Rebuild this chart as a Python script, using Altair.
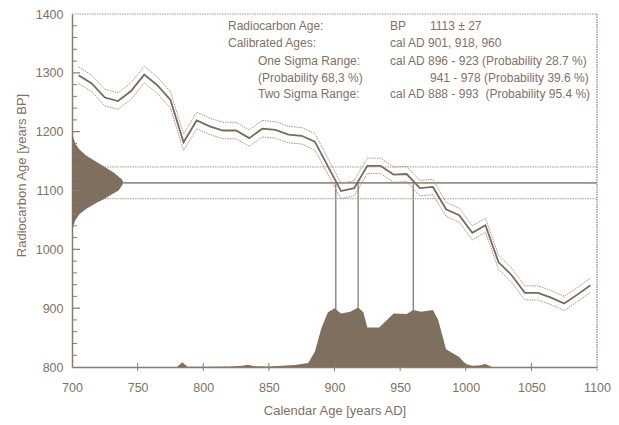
import altair as alt
import pandas as pd

# ---------------- data ----------------
# calibration curve (year AD, radiocarbon age BP, 1-sigma error)
cal_years = [705, 715, 725, 735, 745, 755, 765, 775, 785, 795, 805, 815, 825, 835, 845,
             855, 865, 875, 885, 905, 915, 925, 935, 945, 955, 965, 975, 985, 995, 1005,
             1015, 1025, 1035, 1045, 1055, 1065, 1075, 1085, 1095]
cal_bp = [1296, 1282, 1258, 1252, 1269, 1297, 1279, 1254, 1182, 1219, 1209, 1202, 1202, 1189, 1205,
          1203, 1195, 1193, 1183, 1099, 1104, 1142, 1142, 1127, 1128, 1104, 1106, 1068, 1058, 1028,
          1041, 978, 956, 926, 926, 918, 908, 923, 939]
cal_err = [14, 14, 14, 14, 14, 14, 14, 14, 14, 14, 14, 14, 14, 14, 14,
           14, 14, 14, 14, 13, 13, 13, 13, 13, 13, 13, 13, 12, 12, 12,
           12, 12, 12, 12, 12, 12, 12, 12, 12]

# measured radiocarbon age distribution (age BP, width in years from the axis)
gauss_age = [1200, 1190, 1180, 1170, 1160, 1150, 1140, 1130, 1120, 1113, 1100, 1090, 1086,
             1080, 1070, 1060, 1050, 1040, 1030, 1020]
gauss_w = [0.3, 1.0, 2.5, 5.5, 10.5, 17.5, 25, 32, 37.5, 39.5, 35.5, 27.5, 25,
           19.5, 11.5, 5.8, 2.6, 1.0, 0.35, 0.1]

# calibrated probability distribution (year AD, height on the BP scale)
prob_years = [780, 784, 788, 800, 820, 830, 834, 838, 850, 860, 870, 880, 885, 890, 895, 900,
              905, 912, 918, 922, 925, 934, 940, 945, 955, 960, 966, 975, 979, 985, 995, 1000,
              1005, 1010, 1015, 1020]
prob_vals = [800, 808, 800.5, 800.5, 801, 802, 804, 801.5, 801, 802, 803.5, 807, 826, 866, 893, 900,
             891, 894, 901, 893, 867, 867, 880, 891, 890, 897, 894, 897, 880, 830, 817, 805,
             802, 802.5, 805, 800]

intercepts = [901, 918, 960]
c14_age = 1113
c14_err = 27

y_major = [800, 900, 1000, 1100, 1200, 1300, 1400]
y_minor = list(range(800, 1400, 20))
x_major = [700, 750, 800, 850, 900, 950, 1000, 1050, 1100]

NB = "\u00a0"
text_left = ["Radiocarbon Age:", "Calibrated Ages:", "One Sigma Range:", "(Probability 68,3 %)", "Two Sigma Range:"]
text_right = ["BP", "cal AD 901, 918, 960", "cal AD 896 - 923 (Probability 28.7 %)",
              "941 - 978 (Probability 39.6 %)", "cal AD 888 - 993" + NB + NB + "(Probability 95.4 %)"]
text_bp_value = "1113 ± 27"

# ---------------- style ----------------
W, H = 525, 353
FILL = "#7f6f5f"
LINE = "#7a6a5a"
DOT = "#a39686"
AXC = "#8a7b6c"
TXT = "#7f7163"
FONT = "Liberation Sans"

XS = alt.Scale(domain=[700, 1100], nice=False, zero=False)
YS = alt.Scale(domain=[800, 1400], nice=False, zero=False)

cal = pd.DataFrame({"year": cal_years, "bp": cal_bp, "err": cal_err})
cal["up"] = cal["bp"] + cal["err"]
cal["lo"] = cal["bp"] - cal["err"]

gauss = pd.DataFrame({"age": gauss_age, "w": gauss_w})
gauss["gx"] = 700 + gauss["w"]
gauss["base"] = 700

prob = pd.DataFrame({"year": prob_years, "v": prob_vals})
prob["base"] = 800

w_lookup = dict(zip(gauss_age, gauss_w))
hl = pd.DataFrame({
    "x1": [700 + max(gauss_w)], "x2": [1100], "y": [c14_age]})
hd = pd.DataFrame({
    "x1": [700 + w_lookup[c14_age + c14_err], 700 + w_lookup[c14_age - c14_err]],
    "x2": [1100, 1100], "y": [c14_age + c14_err, c14_age - c14_err]})
vr = pd.DataFrame({"x": intercepts, "y1": [800] * 3, "y2": [c14_age] * 3})

one = pd.DataFrame({"a": [0]})

x_axis = alt.Axis(values=x_major, format="d", title="Calendar Age [years AD]", ticks=False,
                  labelPadding=14, labelFontSize=12.5, labelColor=TXT, labelFont=FONT,
                  domainColor=AXC, domainWidth=1.5, grid=False,
                  titleFontSize=13, titleColor=TXT, titleFont=FONT, titleFontWeight="normal",
                  titleY=43, titleBaseline="middle", labelFlush=False)
y_axis = alt.Axis(values=y_major, format="d", title="Radiocarbon Age [years BP]", ticks=False,
                  labelPadding=9, labelFontSize=12.5, labelColor=TXT, labelFont=FONT,
                  domainColor=AXC, domainWidth=1.5, grid=False,
                  titleFontSize=13, titleColor=TXT, titleFont=FONT, titleFontWeight="normal",
                  titleX=-51, titleY=161, titleAngle=270, titleAlign="center",
                  titleBaseline="middle", labelFlush=False)


def X(f):
    return alt.X(f, scale=XS, axis=x_axis)


def Y(f):
    return alt.Y(f, scale=YS, axis=y_axis)


gauss_area = alt.Chart(gauss).mark_area(orient="horizontal", color=FILL, opacity=1).encode(
    y=Y("age:Q"), x=X("gx:Q"), x2="base:Q",
)

vrules = alt.Chart(vr).mark_rule(color=FILL, strokeWidth=1.2).encode(
    x=X("x:Q"), y=Y("y1:Q"), y2="y2:Q",
)

prob_area = alt.Chart(prob).mark_area(color=FILL, opacity=1).encode(
    x=X("year:Q"), y=Y("v:Q"), y2="base:Q",
)

hline = alt.Chart(hl).mark_rule(color="#998c7f", strokeWidth=1.6).encode(
    x=X("x1:Q"), x2="x2:Q", y=Y("y:Q"),
)
hdots = alt.Chart(hd).mark_rule(color=DOT, strokeWidth=1, strokeDash=[1.5, 1]).encode(
    x=X("x1:Q"), x2="x2:Q", y=Y("y:Q"),
)

band_up = alt.Chart(cal).mark_line(color=DOT, strokeWidth=1, strokeDash=[1.5, 1]).encode(
    x=X("year:Q"), y=Y("up:Q"),
)
band_lo = alt.Chart(cal).mark_line(color=DOT, strokeWidth=1, strokeDash=[1.5, 1]).encode(
    x=X("year:Q"), y=Y("lo:Q"),
)
curve = alt.Chart(cal).mark_line(color=LINE, strokeWidth=1.8).encode(
    x=X("year:Q"), y=Y("bp:Q"),
)

top_border = alt.Chart(one).mark_rule(color=DOT, strokeWidth=1.2, strokeDash=[1.5, 1]).encode(
    x=alt.value(0), x2=alt.value(W), y=alt.value(0))
right_border = alt.Chart(one).mark_rule(color=DOT, strokeWidth=1.5, strokeDash=[1.5, 1]).encode(
    x=alt.value(W), y=alt.value(0), y2=alt.value(H + 4))

ymin_df = pd.DataFrame({"v": [v for v in y_minor if v % 100 != 0]})
ymaj_df = pd.DataFrame({"v": [v for v in y_major if v not in (800, 1400)]})
xt_df = pd.DataFrame({"v": x_major[1:-1]})

ytick_minor = alt.Chart(ymin_df).mark_rule(color=AXC, strokeWidth=1).encode(
    y=Y("v:Q"), x=alt.value(0), x2=alt.value(5))
ytick_major = alt.Chart(ymaj_df).mark_rule(color=AXC, strokeWidth=1.2).encode(
    y=Y("v:Q"), x=alt.value(0), x2=alt.value(8))
xtick = alt.Chart(xt_df).mark_rule(color=AXC, strokeWidth=1).encode(
    x=X("v:Q"), y=alt.value(H - 4), y2=alt.value(H + 4))

row_y = [11.5, 29, 46.5, 63.5, 80]
left_x = [156, 156, 186, 186, 186]
right_x = [318, 318, 318, 358, 318]


def txt(s, x, y):
    return alt.Chart(one).mark_text(text=s, align="left", baseline="middle",
                                    fontSize=12, font=FONT, color=TXT).encode(
        x=alt.value(x), y=alt.value(y))


texts = []
for i in range(5):
    texts.append(txt(text_left[i], left_x[i], row_y[i]))
    texts.append(txt(text_right[i], right_x[i], row_y[i]))
texts.append(txt(text_bp_value, 358, row_y[0]))

chart = alt.layer(
    gauss_area, vrules, prob_area, hdots, hline, band_up, band_lo, curve,
    top_border, right_border, ytick_minor, ytick_major, xtick, *texts
).properties(
    width=W, height=H,
    padding={"left": 64, "top": 6, "right": 14, "bottom": 52},
    autosize=alt.AutoSizeParams(type="none"),
    background="white",
).configure_view(stroke=None)

chart.save("out.html", embed_options={"renderer": "svg", "actions": False})
